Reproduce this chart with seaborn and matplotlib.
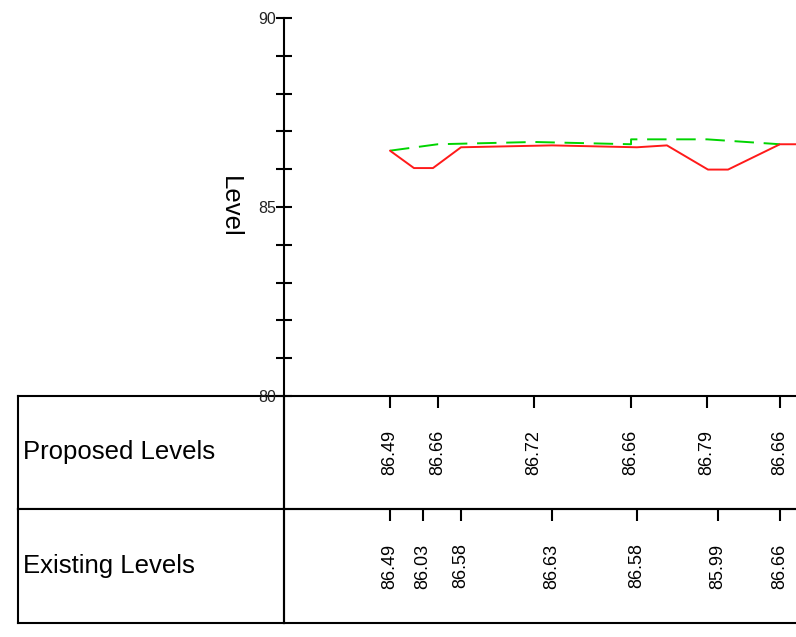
import matplotlib
matplotlib.use("Agg")
import matplotlib.pyplot as plt
import seaborn as sns

prop_x = [0, 4.92, 14.85, 24.85, 24.85, 32.68, 40.2]
prop_y = [86.49, 86.66, 86.72, 86.66, 86.79, 86.79, 86.66]

exist_x = [0, 2.47, 4.43, 7.32, 16.7, 25.46, 28.55, 32.78, 34.85, 40.2, 46.0]
exist_y = [86.49, 86.03, 86.03, 86.58, 86.63, 86.58, 86.63, 85.99, 85.99, 86.66, 86.66]

# stations printed in the table rows
prop_stations = [0, 4.92, 14.85, 24.85, 32.68, 40.2]
prop_labels = ["86.49", "86.66", "86.72", "86.66", "86.79", "86.66"]
exist_stations = [0, 3.4, 7.32, 16.7, 25.46, 33.8, 40.2]
exist_labels = ["86.49", "86.03", "86.58", "86.63", "86.58", "85.99", "86.66"]

row_names = ["Proposed Levels", "Existing Levels"]

sns.set_style("white")
plt.rcParams["font.family"] = ["Liberation Sans", "DejaVu Sans"]
plt.rcParams["text.color"] = "black"

W, H = 796, 637
fig = plt.figure(figsize=(W / 100, H / 100), dpi=100)


def box(x0, y0, x1, y1):
    # pixel box (top-left origin) -> figure fraction rect
    return [x0 / W, (H - y1) / H, (x1 - x0) / W, (y1 - y0) / H]


xmin = -(390 - 284) / 9.7
xmax = xmin + (W - 284) / 9.7
lw = 1.5

# -------- table rows --------
rows = [(396, 509, prop_stations, prop_labels),
        (509, 623, exist_stations, exist_labels)]
for name, (y0, y1, stations, labels) in zip(row_names, rows):
    lab = fig.add_axes(box(18, y0, 284, y1))
    lab.set_xticks([])
    lab.set_yticks([])
    for s in lab.spines.values():
        s.set_linewidth(lw)
        s.set_color("black")
    lab.text(0.02, 0.5, name, transform=lab.transAxes, fontsize=18.5,
             ha="left", va="center", color="black")

    rax = fig.add_axes(box(284, y0, W, y1))
    rax.patch.set_alpha(0)
    rax.set_xlim(xmin, xmax)
    rax.set_yticks([])
    rax.set_xticks(stations)
    rax.tick_params(axis="x", bottom=False, top=True, direction="in",
                    length=8.6, width=lw, color="black",
                    labelbottom=False, labeltop=False)
    rax.spines["right"].set_visible(False)
    for s in ["top", "left", "bottom"]:
        rax.spines[s].set_linewidth(lw)
        rax.spines[s].set_color("black")
    for xs, t in zip(stations, labels):
        rax.text(xs, 0.5, t, transform=rax.get_xaxis_transform(),
                 rotation=90, ha="center", va="center", fontsize=13,
                 color="black")

# -------- section plot --------
ax = fig.add_axes(box(284, 18, W, 396))
sns.lineplot(x=prop_x, y=prop_y, ax=ax, sort=False, estimator=None,
             color="#00d400", linewidth=1.4, linestyle="--")
ax.lines[-1].set_dashes((10, 5))
sns.lineplot(x=exist_x, y=exist_y, ax=ax, sort=False, estimator=None,
             color="#ff1a1a", linewidth=1.4)
ax.set_xlim(xmin, xmax)
ax.set_ylim(80, 90)
ax.set_yticks([80, 85, 90])
ax.set_yticks(range(80, 91), minor=True)
ax.set_xticks([])
for s in ["top", "right", "bottom"]:
    ax.spines[s].set_visible(False)
ax.spines["left"].set_linewidth(lw)
ax.spines["left"].set_color("black")
ax.tick_params(axis="y", which="both", direction="inout", length=11.5,
               width=lw, color="black", left=True, pad=0, labelsize=11.5,
               labelcolor="#222222")
ax.set_ylabel("Level", rotation=270, fontsize=18.5, color="black")
ax.yaxis.set_label_coords(-0.13, 0.5)
ax.patch.set_alpha(0)

fig.savefig("out.png", dpi=100)
